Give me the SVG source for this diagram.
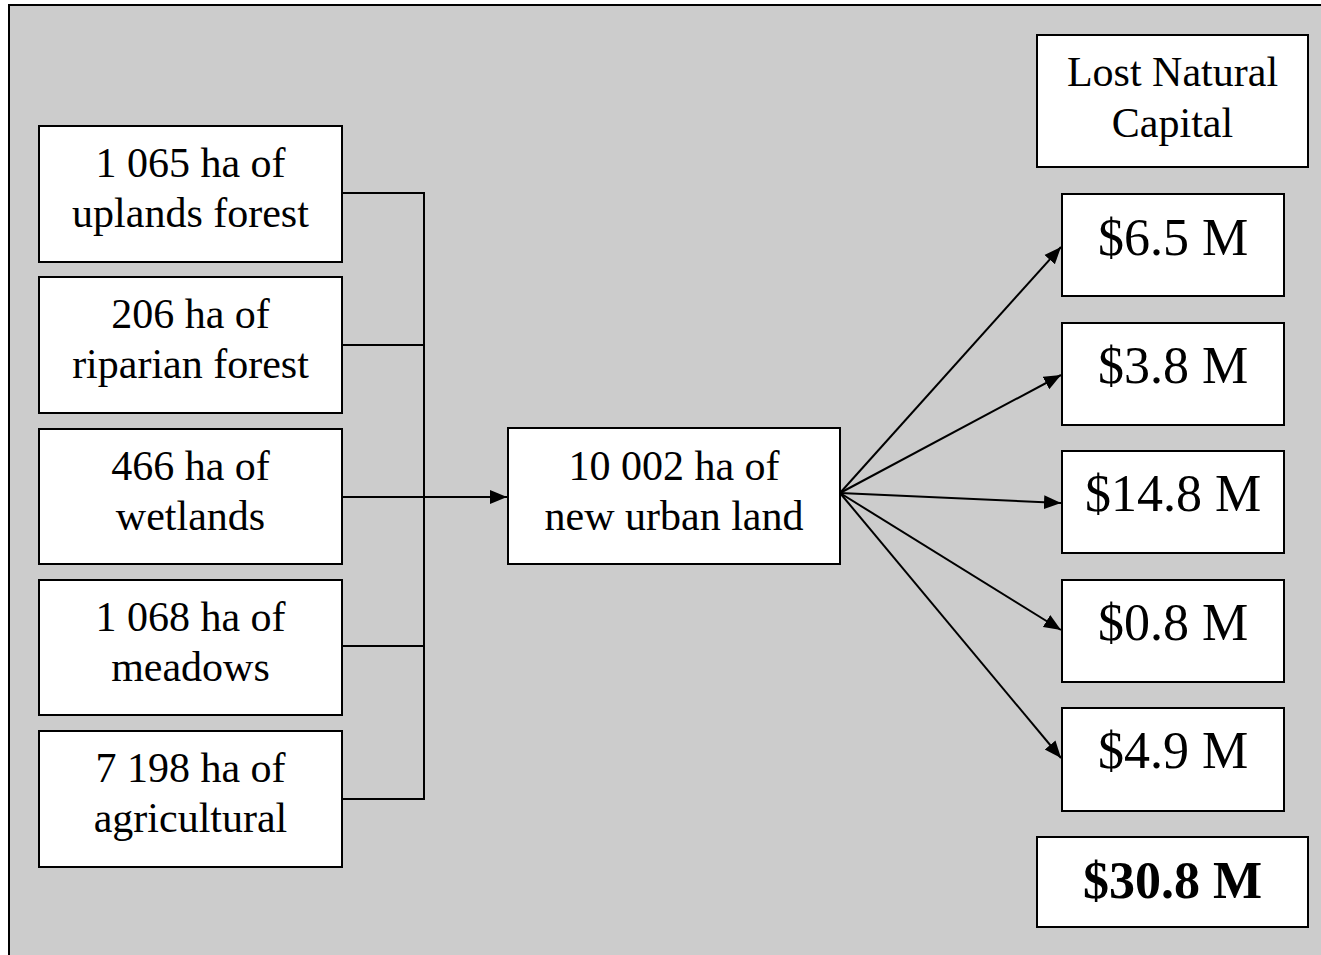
<svg xmlns="http://www.w3.org/2000/svg" width="1321" height="955" viewBox="0 0 1321 955">
<style>
.box{fill:#fff;stroke:#000;stroke-width:2}
.t{font-family:"Liberation Serif","Times New Roman",serif;font-size:42px;text-anchor:middle;fill:#000}
.d{font-family:"Liberation Serif","Times New Roman",serif;font-size:52px;text-anchor:middle;fill:#000}
.c{fill:none;stroke:#000;stroke-width:2}
</style>
<defs>
<marker id="ah" markerUnits="userSpaceOnUse" markerWidth="18" markerHeight="16" refX="17" refY="8" orient="auto">
<path d="M0,1 L17,8 L0,15 z" fill="#000"/>
</marker>
</defs>
<rect x="9" y="5" width="1330" height="970" fill="#cccccc" stroke="#000" stroke-width="2"/>
<g id="connectors">
<path class="c" d="M342,193 H424 V799 H342"/>
<path class="c" d="M342,345 H424"/>
<path class="c" d="M342,646 H424"/>
<path class="c" d="M342,497 H507" marker-end="url(#ah)" stroke-width="2.5"/>
<path class="c" d="M840,493 L1061,247" marker-end="url(#ah)"/>
<path class="c" d="M840,493 L1061,375" marker-end="url(#ah)"/>
<path class="c" d="M840,493 L1061,503" marker-end="url(#ah)"/>
<path class="c" d="M840,493 L1061,630" marker-end="url(#ah)"/>
<path class="c" d="M840,493 L1061,758" marker-end="url(#ah)"/>
</g>
<g id="n1"><rect class="box" x="39" y="126" width="303" height="136"/><text class="t" x="190.5" y="177">1 065 ha of</text><text class="t" x="190.5" y="227">uplands forest</text></g>
<g id="n2"><rect class="box" x="39" y="277" width="303" height="136"/><text class="t" x="190.5" y="328">206 ha of</text><text class="t" x="190.5" y="378">riparian forest</text></g>
<g id="n3"><rect class="box" x="39" y="429" width="303" height="135"/><text class="t" x="190.5" y="480">466 ha of</text><text class="t" x="190.5" y="530">wetlands</text></g>
<g id="n4"><rect class="box" x="39" y="580" width="303" height="135"/><text class="t" x="190.5" y="631">1 068 ha of</text><text class="t" x="190.5" y="681">meadows</text></g>
<g id="n5"><rect class="box" x="39" y="731" width="303" height="136"/><text class="t" x="190.5" y="782">7 198 ha of</text><text class="t" x="190.5" y="832">agricultural</text></g>
<g id="center"><rect class="box" x="508" y="428" width="332" height="136"/><text class="t" x="674" y="480">10 002 ha of</text><text class="t" x="674" y="530">new urban land</text></g>
<g id="header"><rect class="box" x="1037" y="35" width="271" height="132"/><text class="t" x="1172.5" y="86">Lost Natural</text><text class="t" x="1172.5" y="137">Capital</text></g>
<g id="v1"><rect class="box" x="1062" y="194" width="222" height="102"/><text class="d" x="1173" y="255">$6.5 M</text></g>
<g id="v2"><rect class="box" x="1062" y="323" width="222" height="102"/><text class="d" x="1173" y="383">$3.8 M</text></g>
<g id="v3"><rect class="box" x="1062" y="451" width="222" height="102"/><text class="d" x="1173" y="511">$14.8 M</text></g>
<g id="v4"><rect class="box" x="1062" y="580" width="222" height="102"/><text class="d" x="1173" y="640">$0.8 M</text></g>
<g id="v5"><rect class="box" x="1062" y="708" width="222" height="103"/><text class="d" x="1173" y="768">$4.9 M</text></g>
<g id="total"><rect class="box" x="1037" y="837" width="271" height="90"/><text class="d" x="1172.5" y="898" font-weight="bold">$30.8 M</text></g>
</svg>
